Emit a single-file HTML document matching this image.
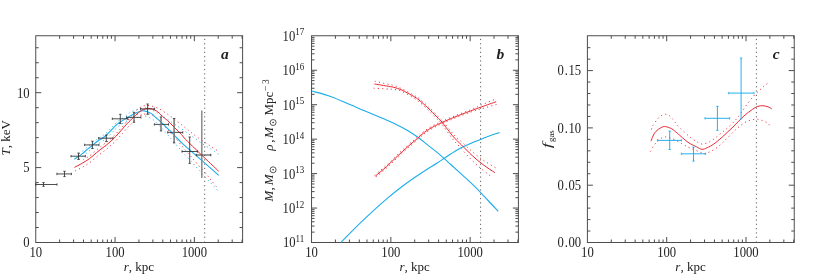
<!DOCTYPE html>
<html><head><meta charset="utf-8"><title>Cluster profiles</title>
<style>
html,body{margin:0;padding:0;background:#fff;}
body{width:830px;height:279px;overflow:hidden;}
svg{display:block;font-family:"Liberation Serif",serif;fill:#222;}
</style></head><body>
<svg width="830" height="279" viewBox="0 0 830 279">
<rect width="830" height="279" fill="#fff"/>
<g style="will-change:transform">
<rect x="35.75" y="35.75" width="206.85" height="206.75" fill="none" stroke="#4d4d4d" stroke-width="1"/>
<line x1="59.62" y1="242.50" x2="59.62" y2="239.50" stroke="#4d4d4d" stroke-width="1" />
<line x1="59.62" y1="35.75" x2="59.62" y2="38.75" stroke="#4d4d4d" stroke-width="1" />
<line x1="73.59" y1="242.50" x2="73.59" y2="239.50" stroke="#4d4d4d" stroke-width="1" />
<line x1="73.59" y1="35.75" x2="73.59" y2="38.75" stroke="#4d4d4d" stroke-width="1" />
<line x1="83.49" y1="242.50" x2="83.49" y2="239.50" stroke="#4d4d4d" stroke-width="1" />
<line x1="83.49" y1="35.75" x2="83.49" y2="38.75" stroke="#4d4d4d" stroke-width="1" />
<line x1="91.18" y1="242.50" x2="91.18" y2="239.50" stroke="#4d4d4d" stroke-width="1" />
<line x1="91.18" y1="35.75" x2="91.18" y2="38.75" stroke="#4d4d4d" stroke-width="1" />
<line x1="97.46" y1="242.50" x2="97.46" y2="239.50" stroke="#4d4d4d" stroke-width="1" />
<line x1="97.46" y1="35.75" x2="97.46" y2="38.75" stroke="#4d4d4d" stroke-width="1" />
<line x1="102.77" y1="242.50" x2="102.77" y2="239.50" stroke="#4d4d4d" stroke-width="1" />
<line x1="102.77" y1="35.75" x2="102.77" y2="38.75" stroke="#4d4d4d" stroke-width="1" />
<line x1="107.37" y1="242.50" x2="107.37" y2="239.50" stroke="#4d4d4d" stroke-width="1" />
<line x1="107.37" y1="35.75" x2="107.37" y2="38.75" stroke="#4d4d4d" stroke-width="1" />
<line x1="111.42" y1="242.50" x2="111.42" y2="239.50" stroke="#4d4d4d" stroke-width="1" />
<line x1="111.42" y1="35.75" x2="111.42" y2="38.75" stroke="#4d4d4d" stroke-width="1" />
<line x1="115.05" y1="242.50" x2="115.05" y2="237.00" stroke="#4d4d4d" stroke-width="1" />
<line x1="115.05" y1="35.75" x2="115.05" y2="41.25" stroke="#4d4d4d" stroke-width="1" />
<line x1="138.92" y1="242.50" x2="138.92" y2="239.50" stroke="#4d4d4d" stroke-width="1" />
<line x1="138.92" y1="35.75" x2="138.92" y2="38.75" stroke="#4d4d4d" stroke-width="1" />
<line x1="152.89" y1="242.50" x2="152.89" y2="239.50" stroke="#4d4d4d" stroke-width="1" />
<line x1="152.89" y1="35.75" x2="152.89" y2="38.75" stroke="#4d4d4d" stroke-width="1" />
<line x1="162.79" y1="242.50" x2="162.79" y2="239.50" stroke="#4d4d4d" stroke-width="1" />
<line x1="162.79" y1="35.75" x2="162.79" y2="38.75" stroke="#4d4d4d" stroke-width="1" />
<line x1="170.48" y1="242.50" x2="170.48" y2="239.50" stroke="#4d4d4d" stroke-width="1" />
<line x1="170.48" y1="35.75" x2="170.48" y2="38.75" stroke="#4d4d4d" stroke-width="1" />
<line x1="176.76" y1="242.50" x2="176.76" y2="239.50" stroke="#4d4d4d" stroke-width="1" />
<line x1="176.76" y1="35.75" x2="176.76" y2="38.75" stroke="#4d4d4d" stroke-width="1" />
<line x1="182.07" y1="242.50" x2="182.07" y2="239.50" stroke="#4d4d4d" stroke-width="1" />
<line x1="182.07" y1="35.75" x2="182.07" y2="38.75" stroke="#4d4d4d" stroke-width="1" />
<line x1="186.67" y1="242.50" x2="186.67" y2="239.50" stroke="#4d4d4d" stroke-width="1" />
<line x1="186.67" y1="35.75" x2="186.67" y2="38.75" stroke="#4d4d4d" stroke-width="1" />
<line x1="190.72" y1="242.50" x2="190.72" y2="239.50" stroke="#4d4d4d" stroke-width="1" />
<line x1="190.72" y1="35.75" x2="190.72" y2="38.75" stroke="#4d4d4d" stroke-width="1" />
<line x1="194.35" y1="242.50" x2="194.35" y2="237.00" stroke="#4d4d4d" stroke-width="1" />
<line x1="194.35" y1="35.75" x2="194.35" y2="41.25" stroke="#4d4d4d" stroke-width="1" />
<line x1="218.22" y1="242.50" x2="218.22" y2="239.50" stroke="#4d4d4d" stroke-width="1" />
<line x1="218.22" y1="35.75" x2="218.22" y2="38.75" stroke="#4d4d4d" stroke-width="1" />
<line x1="232.19" y1="242.50" x2="232.19" y2="239.50" stroke="#4d4d4d" stroke-width="1" />
<line x1="232.19" y1="35.75" x2="232.19" y2="38.75" stroke="#4d4d4d" stroke-width="1" />
<line x1="242.09" y1="242.50" x2="242.09" y2="239.50" stroke="#4d4d4d" stroke-width="1" />
<line x1="242.09" y1="35.75" x2="242.09" y2="38.75" stroke="#4d4d4d" stroke-width="1" />
<text transform="translate(35.75,256.90) scale(0.975,1.07)" font-size="13" text-anchor="middle" >10</text>
<text transform="translate(115.05,256.90) scale(0.975,1.07)" font-size="13" text-anchor="middle" >100</text>
<text transform="translate(194.35,256.90) scale(0.975,1.07)" font-size="13" text-anchor="middle" >1000</text>
<text x="138.88" y="270.5" font-size="13" text-anchor="middle"><tspan font-style="italic">r</tspan>, kpc</text>
<line x1="35.75" y1="227.52" x2="38.75" y2="227.52" stroke="#4d4d4d" stroke-width="1" />
<line x1="242.60" y1="227.52" x2="239.60" y2="227.52" stroke="#4d4d4d" stroke-width="1" />
<line x1="35.75" y1="212.54" x2="38.75" y2="212.54" stroke="#4d4d4d" stroke-width="1" />
<line x1="242.60" y1="212.54" x2="239.60" y2="212.54" stroke="#4d4d4d" stroke-width="1" />
<line x1="35.75" y1="197.56" x2="38.75" y2="197.56" stroke="#4d4d4d" stroke-width="1" />
<line x1="242.60" y1="197.56" x2="239.60" y2="197.56" stroke="#4d4d4d" stroke-width="1" />
<line x1="35.75" y1="182.58" x2="38.75" y2="182.58" stroke="#4d4d4d" stroke-width="1" />
<line x1="242.60" y1="182.58" x2="239.60" y2="182.58" stroke="#4d4d4d" stroke-width="1" />
<line x1="35.75" y1="167.60" x2="41.25" y2="167.60" stroke="#4d4d4d" stroke-width="1" />
<line x1="242.60" y1="167.60" x2="237.10" y2="167.60" stroke="#4d4d4d" stroke-width="1" />
<line x1="35.75" y1="152.62" x2="38.75" y2="152.62" stroke="#4d4d4d" stroke-width="1" />
<line x1="242.60" y1="152.62" x2="239.60" y2="152.62" stroke="#4d4d4d" stroke-width="1" />
<line x1="35.75" y1="137.64" x2="38.75" y2="137.64" stroke="#4d4d4d" stroke-width="1" />
<line x1="242.60" y1="137.64" x2="239.60" y2="137.64" stroke="#4d4d4d" stroke-width="1" />
<line x1="35.75" y1="122.66" x2="38.75" y2="122.66" stroke="#4d4d4d" stroke-width="1" />
<line x1="242.60" y1="122.66" x2="239.60" y2="122.66" stroke="#4d4d4d" stroke-width="1" />
<line x1="35.75" y1="107.68" x2="38.75" y2="107.68" stroke="#4d4d4d" stroke-width="1" />
<line x1="242.60" y1="107.68" x2="239.60" y2="107.68" stroke="#4d4d4d" stroke-width="1" />
<line x1="35.75" y1="92.70" x2="41.25" y2="92.70" stroke="#4d4d4d" stroke-width="1" />
<line x1="242.60" y1="92.70" x2="237.10" y2="92.70" stroke="#4d4d4d" stroke-width="1" />
<line x1="35.75" y1="77.72" x2="38.75" y2="77.72" stroke="#4d4d4d" stroke-width="1" />
<line x1="242.60" y1="77.72" x2="239.60" y2="77.72" stroke="#4d4d4d" stroke-width="1" />
<line x1="35.75" y1="62.74" x2="38.75" y2="62.74" stroke="#4d4d4d" stroke-width="1" />
<line x1="242.60" y1="62.74" x2="239.60" y2="62.74" stroke="#4d4d4d" stroke-width="1" />
<line x1="35.75" y1="47.76" x2="38.75" y2="47.76" stroke="#4d4d4d" stroke-width="1" />
<line x1="242.60" y1="47.76" x2="239.60" y2="47.76" stroke="#4d4d4d" stroke-width="1" />
<text transform="translate(29.55,247.35) scale(0.975,1.07)" font-size="13" text-anchor="end" >0</text>
<text transform="translate(29.55,172.45) scale(0.975,1.07)" font-size="13" text-anchor="end" >5</text>
<text transform="translate(29.55,97.55) scale(0.975,1.07)" font-size="13" text-anchor="end" >10</text>
<line x1="204.70" y1="38.85" x2="204.70" y2="241.50" stroke="#5e5e5e" stroke-width="1.0" stroke-dasharray="1.2 3.1"/>
<path d="M79.00 153.70 C79.63 153.25 81.23 152.25 82.80 151.00 C84.37 149.75 86.70 147.62 88.40 146.20 C90.10 144.78 91.10 143.98 93.00 142.50 C94.90 141.02 98.05 138.53 99.80 137.30 C101.55 136.07 102.30 135.93 103.50 135.10 C104.70 134.27 105.70 133.50 107.00 132.30 C108.30 131.10 110.10 129.13 111.30 127.90 C112.50 126.67 113.02 126.07 114.20 124.90 C115.38 123.73 117.20 121.90 118.40 120.90 C119.60 119.90 119.90 119.83 121.40 118.90 C122.90 117.97 126.00 116.38 127.40 115.30 C128.80 114.22 128.77 113.12 129.80 112.40 C130.83 111.68 132.23 111.53 133.60 111.00 C134.97 110.47 136.27 109.70 138.00 109.20 C139.73 108.70 142.17 108.10 144.00 108.00 C145.83 107.90 147.33 108.10 149.00 108.60 C150.67 109.10 152.17 110.02 154.00 111.00 C155.83 111.98 157.83 113.17 160.00 114.50 C162.17 115.83 164.50 117.33 167.00 119.00 C169.50 120.67 172.17 122.58 175.00 124.50 C177.83 126.42 181.00 128.42 184.00 130.50 C187.00 132.58 190.17 134.95 193.00 137.00 C195.83 139.05 198.33 140.98 201.00 142.80 C203.67 144.62 206.95 146.65 209.00 147.90 C211.05 149.15 211.62 149.15 213.30 150.30 C214.98 151.45 218.13 154.05 219.10 154.80" fill="none" stroke="#1badea" stroke-width="0.95" stroke-dasharray="1.1 3.2"/>
<path d="M79.00 159.10 C79.63 158.65 81.23 157.65 82.80 156.40 C84.37 155.15 86.70 153.02 88.40 151.60 C90.10 150.18 91.10 149.38 93.00 147.90 C94.90 146.42 98.05 143.93 99.80 142.70 C101.55 141.47 102.30 141.33 103.50 140.50 C104.70 139.67 105.70 138.90 107.00 137.70 C108.30 136.50 110.10 134.53 111.30 133.30 C112.50 132.07 113.02 131.47 114.20 130.30 C115.38 129.13 117.20 127.30 118.40 126.30 C119.60 125.30 119.90 125.23 121.40 124.30 C122.90 123.37 125.82 121.65 127.40 120.70 C128.98 119.75 129.50 119.55 130.90 118.60 C132.30 117.65 134.12 115.60 135.80 115.00 C137.48 114.40 139.22 114.75 141.00 115.00 C142.78 115.25 144.87 115.93 146.50 116.50 C148.13 117.07 149.45 117.67 150.80 118.40 C152.15 119.13 153.07 119.55 154.60 120.90 C156.13 122.25 157.93 124.32 160.00 126.50 C162.07 128.68 164.50 131.17 167.00 134.00 C169.50 136.83 172.17 140.25 175.00 143.50 C177.83 146.75 181.00 150.17 184.00 153.50 C187.00 156.83 190.17 160.37 193.00 163.50 C195.83 166.63 198.33 169.35 201.00 172.30 C203.67 175.25 206.77 178.82 209.00 181.20 C211.23 183.58 212.97 185.05 214.40 186.60 C215.83 188.15 217.07 189.85 217.60 190.50" fill="none" stroke="#1badea" stroke-width="0.95" stroke-dasharray="1.1 3.2"/>
<path d="M83.10 159.90 C84.30 159.13 87.90 157.08 90.30 155.30 C92.70 153.52 95.25 151.03 97.50 149.20 C99.75 147.37 102.17 145.55 103.80 144.30 C105.43 143.05 106.13 142.65 107.30 141.70 C108.47 140.75 109.60 139.67 110.80 138.60 C112.00 137.53 113.18 136.62 114.50 135.30 C115.82 133.98 117.40 132.13 118.70 130.70 C120.00 129.27 120.80 128.40 122.30 126.70 C123.80 125.00 126.22 122.10 127.70 120.50 C129.18 118.90 129.47 119.02 131.20 117.10 C132.93 115.18 136.27 110.78 138.10 109.00 C139.93 107.22 140.80 106.97 142.20 106.40 C143.60 105.83 145.07 105.68 146.50 105.60 C147.93 105.52 149.28 105.62 150.80 105.90 C152.32 106.18 154.17 106.78 155.60 107.30 C157.03 107.82 158.22 108.40 159.40 109.00 C160.58 109.60 161.52 110.15 162.70 110.90 C163.88 111.65 165.28 112.68 166.50 113.50 C167.72 114.32 168.22 114.47 170.00 115.80 C171.78 117.13 174.92 119.72 177.20 121.50 C179.48 123.28 181.55 124.82 183.70 126.50 C185.85 128.18 187.83 129.82 190.10 131.60 C192.37 133.38 194.52 135.20 197.30 137.20 C200.08 139.20 204.50 142.03 206.80 143.60 C209.10 145.17 209.67 145.67 211.10 146.60 C212.53 147.53 214.08 148.32 215.40 149.20 C216.72 150.08 218.40 151.45 219.00 151.90" fill="none" stroke="#ea2630" stroke-width="0.95" stroke-dasharray="1.1 3.2"/>
<path d="M75.20 171.00 C76.52 170.30 80.58 168.27 83.10 166.80 C85.62 165.33 87.90 163.98 90.30 162.20 C92.70 160.42 95.25 157.93 97.50 156.10 C99.75 154.27 102.17 152.45 103.80 151.20 C105.43 149.95 106.13 149.55 107.30 148.60 C108.47 147.65 109.60 146.57 110.80 145.50 C112.00 144.43 113.18 143.52 114.50 142.20 C115.82 140.88 117.40 139.03 118.70 137.60 C120.00 136.17 120.80 135.30 122.30 133.60 C123.80 131.90 126.22 129.00 127.70 127.40 C129.18 125.80 129.32 125.87 131.20 124.00 C133.08 122.13 136.98 117.80 139.00 116.20 C141.02 114.60 141.80 114.80 143.30 114.40 C144.80 114.00 146.55 113.70 148.00 113.80 C149.45 113.90 150.50 114.20 152.00 115.00 C153.50 115.80 155.33 117.17 157.00 118.60 C158.67 120.03 160.33 121.88 162.00 123.60 C163.67 125.32 165.33 127.07 167.00 128.90 C168.67 130.73 170.33 132.75 172.00 134.60 C173.67 136.45 175.00 137.68 177.00 140.00 C179.00 142.32 181.83 145.93 184.00 148.50 C186.17 151.07 187.83 152.88 190.00 155.40 C192.17 157.92 194.20 160.37 197.00 163.60 C199.80 166.83 204.45 172.03 206.80 174.80 C209.15 177.57 209.48 178.23 211.10 180.20 C212.72 182.17 215.35 185.20 216.50 186.60 C217.65 188.00 217.75 188.27 218.00 188.60" fill="none" stroke="#ea2630" stroke-width="0.95" stroke-dasharray="1.1 3.2"/>
<path d="M74.40 159.30 C75.08 158.82 77.18 157.33 78.50 156.40 C79.82 155.47 80.73 154.95 82.30 153.70 C83.87 152.45 86.20 150.32 87.90 148.90 C89.60 147.48 90.60 146.68 92.50 145.20 C94.40 143.72 97.55 141.23 99.30 140.00 C101.05 138.77 101.80 138.63 103.00 137.80 C104.20 136.97 105.20 136.20 106.50 135.00 C107.80 133.80 109.60 131.83 110.80 130.60 C112.00 129.37 112.52 128.77 113.70 127.60 C114.88 126.43 116.70 124.60 117.90 123.60 C119.10 122.60 119.40 122.53 120.90 121.60 C122.40 120.67 125.32 118.95 126.90 118.00 C128.48 117.05 128.92 116.73 130.40 115.90 C131.88 115.07 134.13 113.78 135.80 113.00 C137.47 112.22 139.00 111.55 140.40 111.20 C141.80 110.85 142.65 110.63 144.20 110.90 C145.75 111.17 148.25 112.18 149.70 112.80 C151.15 113.42 152.00 113.92 152.90 114.60 C153.80 115.28 154.08 115.97 155.10 116.90 C156.12 117.83 157.87 119.22 159.00 120.20 C160.13 121.18 160.42 121.35 161.90 122.80 C163.38 124.25 166.42 127.47 167.90 128.90 C169.38 130.33 169.30 129.88 170.80 131.40 C172.30 132.92 174.98 136.02 176.90 138.00 C178.82 139.98 180.12 141.27 182.30 143.30 C184.48 145.33 187.05 147.60 190.00 150.20 C192.95 152.80 196.67 156.00 200.00 158.90 C203.33 161.80 206.88 164.85 210.00 167.60 C213.12 170.35 217.25 174.10 218.70 175.40" fill="none" stroke="#1badea" stroke-width="1.08" />
<path d="M74.40 167.40 C75.72 166.70 79.78 164.67 82.30 163.20 C84.82 161.73 87.10 160.38 89.50 158.60 C91.90 156.82 94.45 154.33 96.70 152.50 C98.95 150.67 101.37 148.85 103.00 147.60 C104.63 146.35 105.33 145.95 106.50 145.00 C107.67 144.05 108.80 142.97 110.00 141.90 C111.20 140.83 112.38 139.92 113.70 138.60 C115.02 137.28 116.60 135.43 117.90 134.00 C119.20 132.57 120.00 131.70 121.50 130.00 C123.00 128.30 125.42 125.40 126.90 123.80 C128.38 122.20 128.92 121.83 130.40 120.40 C131.88 118.97 134.02 116.83 135.80 115.20 C137.58 113.57 139.40 111.68 141.10 110.60 C142.80 109.52 144.68 109.05 146.00 108.70 C147.32 108.35 147.95 108.42 149.00 108.50 C150.05 108.58 150.92 108.72 152.30 109.20 C153.68 109.68 155.63 110.23 157.30 111.40 C158.97 112.57 160.60 114.67 162.30 116.20 C164.00 117.73 165.50 118.75 167.50 120.60 C169.50 122.45 171.97 124.97 174.30 127.30 C176.63 129.63 179.58 132.55 181.50 134.60 C183.42 136.65 183.55 137.27 185.80 139.60 C188.05 141.93 191.80 145.48 195.00 148.60 C198.20 151.72 202.17 155.58 205.00 158.30 C207.83 161.02 209.72 162.73 212.00 164.90 C214.28 167.07 217.58 170.23 218.70 171.30" fill="none" stroke="#ea2630" stroke-width="1.0" />
<line x1="35.80" y1="184.50" x2="57.00" y2="184.50" stroke="#2f2f2f" stroke-width="0.85" />
<line x1="43.50" y1="182.60" x2="43.50" y2="186.30" stroke="#2f2f2f" stroke-width="0.85" />
<line x1="35.80" y1="183.30" x2="35.80" y2="185.70" stroke="#2f2f2f" stroke-width="0.8" />
<line x1="57.00" y1="183.30" x2="57.00" y2="185.70" stroke="#2f2f2f" stroke-width="0.8" />
<line x1="42.30" y1="182.60" x2="44.70" y2="182.60" stroke="#2f2f2f" stroke-width="0.8" />
<line x1="42.30" y1="186.30" x2="44.70" y2="186.30" stroke="#2f2f2f" stroke-width="0.8" />
<line x1="56.90" y1="173.95" x2="71.40" y2="173.95" stroke="#2f2f2f" stroke-width="0.85" />
<line x1="64.50" y1="171.30" x2="64.50" y2="176.60" stroke="#2f2f2f" stroke-width="0.85" />
<line x1="56.90" y1="172.75" x2="56.90" y2="175.15" stroke="#2f2f2f" stroke-width="0.8" />
<line x1="71.40" y1="172.75" x2="71.40" y2="175.15" stroke="#2f2f2f" stroke-width="0.8" />
<line x1="63.30" y1="171.30" x2="65.70" y2="171.30" stroke="#2f2f2f" stroke-width="0.8" />
<line x1="63.30" y1="176.60" x2="65.70" y2="176.60" stroke="#2f2f2f" stroke-width="0.8" />
<line x1="71.00" y1="156.20" x2="85.30" y2="156.20" stroke="#2f2f2f" stroke-width="0.85" />
<line x1="78.50" y1="153.10" x2="78.50" y2="159.50" stroke="#2f2f2f" stroke-width="0.85" />
<line x1="71.00" y1="155.00" x2="71.00" y2="157.40" stroke="#2f2f2f" stroke-width="0.8" />
<line x1="85.30" y1="155.00" x2="85.30" y2="157.40" stroke="#2f2f2f" stroke-width="0.8" />
<line x1="77.30" y1="153.10" x2="79.70" y2="153.10" stroke="#2f2f2f" stroke-width="0.8" />
<line x1="77.30" y1="159.50" x2="79.70" y2="159.50" stroke="#2f2f2f" stroke-width="0.8" />
<line x1="84.60" y1="144.90" x2="99.00" y2="144.90" stroke="#2f2f2f" stroke-width="0.85" />
<line x1="92.40" y1="141.20" x2="92.40" y2="148.50" stroke="#2f2f2f" stroke-width="0.85" />
<line x1="84.60" y1="143.70" x2="84.60" y2="146.10" stroke="#2f2f2f" stroke-width="0.8" />
<line x1="99.00" y1="143.70" x2="99.00" y2="146.10" stroke="#2f2f2f" stroke-width="0.8" />
<line x1="91.20" y1="141.20" x2="93.60" y2="141.20" stroke="#2f2f2f" stroke-width="0.8" />
<line x1="91.20" y1="148.50" x2="93.60" y2="148.50" stroke="#2f2f2f" stroke-width="0.8" />
<line x1="98.60" y1="138.20" x2="113.00" y2="138.20" stroke="#2f2f2f" stroke-width="0.85" />
<line x1="106.30" y1="135.10" x2="106.30" y2="141.60" stroke="#2f2f2f" stroke-width="0.85" />
<line x1="98.60" y1="137.00" x2="98.60" y2="139.40" stroke="#2f2f2f" stroke-width="0.8" />
<line x1="113.00" y1="137.00" x2="113.00" y2="139.40" stroke="#2f2f2f" stroke-width="0.8" />
<line x1="105.10" y1="135.10" x2="107.50" y2="135.10" stroke="#2f2f2f" stroke-width="0.8" />
<line x1="105.10" y1="141.60" x2="107.50" y2="141.60" stroke="#2f2f2f" stroke-width="0.8" />
<line x1="112.30" y1="118.80" x2="127.80" y2="118.80" stroke="#2f2f2f" stroke-width="0.85" />
<line x1="120.30" y1="114.30" x2="120.30" y2="123.50" stroke="#2f2f2f" stroke-width="0.85" />
<line x1="112.30" y1="117.60" x2="112.30" y2="120.00" stroke="#2f2f2f" stroke-width="0.8" />
<line x1="127.80" y1="117.60" x2="127.80" y2="120.00" stroke="#2f2f2f" stroke-width="0.8" />
<line x1="119.10" y1="114.30" x2="121.50" y2="114.30" stroke="#2f2f2f" stroke-width="0.8" />
<line x1="119.10" y1="123.50" x2="121.50" y2="123.50" stroke="#2f2f2f" stroke-width="0.8" />
<line x1="126.60" y1="117.40" x2="140.90" y2="117.40" stroke="#2f2f2f" stroke-width="0.85" />
<line x1="134.00" y1="112.40" x2="134.00" y2="122.30" stroke="#555" stroke-width="1.2" />
<line x1="126.60" y1="116.20" x2="126.60" y2="118.60" stroke="#2f2f2f" stroke-width="0.8" />
<line x1="140.90" y1="116.20" x2="140.90" y2="118.60" stroke="#2f2f2f" stroke-width="0.8" />
<line x1="132.80" y1="112.40" x2="135.20" y2="112.40" stroke="#2f2f2f" stroke-width="0.8" />
<line x1="132.80" y1="122.30" x2="135.20" y2="122.30" stroke="#2f2f2f" stroke-width="0.8" />
<line x1="140.50" y1="108.90" x2="154.60" y2="108.90" stroke="#2f2f2f" stroke-width="0.85" />
<line x1="147.60" y1="104.00" x2="147.60" y2="114.30" stroke="#2f2f2f" stroke-width="0.85" />
<line x1="140.50" y1="107.70" x2="140.50" y2="110.10" stroke="#2f2f2f" stroke-width="0.8" />
<line x1="154.60" y1="107.70" x2="154.60" y2="110.10" stroke="#2f2f2f" stroke-width="0.8" />
<line x1="146.40" y1="104.00" x2="148.80" y2="104.00" stroke="#2f2f2f" stroke-width="0.8" />
<line x1="146.40" y1="114.30" x2="148.80" y2="114.30" stroke="#2f2f2f" stroke-width="0.8" />
<line x1="154.40" y1="124.40" x2="168.50" y2="124.40" stroke="#2f2f2f" stroke-width="0.85" />
<line x1="161.00" y1="116.90" x2="161.00" y2="130.90" stroke="#747474" stroke-width="1.5" />
<line x1="154.40" y1="123.20" x2="154.40" y2="125.60" stroke="#2f2f2f" stroke-width="0.8" />
<line x1="168.50" y1="123.20" x2="168.50" y2="125.60" stroke="#2f2f2f" stroke-width="0.8" />
<line x1="159.80" y1="116.90" x2="162.20" y2="116.90" stroke="#2f2f2f" stroke-width="0.8" />
<line x1="159.80" y1="130.90" x2="162.20" y2="130.90" stroke="#2f2f2f" stroke-width="0.8" />
<line x1="167.70" y1="132.40" x2="182.80" y2="132.40" stroke="#2f2f2f" stroke-width="0.85" />
<line x1="174.10" y1="118.50" x2="174.10" y2="142.90" stroke="#747474" stroke-width="1.5" />
<line x1="167.70" y1="131.20" x2="167.70" y2="133.60" stroke="#2f2f2f" stroke-width="0.8" />
<line x1="182.80" y1="131.20" x2="182.80" y2="133.60" stroke="#2f2f2f" stroke-width="0.8" />
<line x1="172.90" y1="118.50" x2="175.30" y2="118.50" stroke="#2f2f2f" stroke-width="0.8" />
<line x1="172.90" y1="142.90" x2="175.30" y2="142.90" stroke="#2f2f2f" stroke-width="0.8" />
<line x1="182.00" y1="151.50" x2="197.60" y2="151.50" stroke="#2f2f2f" stroke-width="0.85" />
<line x1="189.70" y1="137.00" x2="189.70" y2="163.40" stroke="#2f2f2f" stroke-width="0.85" />
<line x1="182.00" y1="150.30" x2="182.00" y2="152.70" stroke="#2f2f2f" stroke-width="0.8" />
<line x1="197.60" y1="150.30" x2="197.60" y2="152.70" stroke="#2f2f2f" stroke-width="0.8" />
<line x1="188.50" y1="137.00" x2="190.90" y2="137.00" stroke="#2f2f2f" stroke-width="0.8" />
<line x1="188.50" y1="163.40" x2="190.90" y2="163.40" stroke="#2f2f2f" stroke-width="0.8" />
<line x1="201.80" y1="110.50" x2="201.80" y2="178.00" stroke="#858585" stroke-width="1.45" />
<line x1="196.30" y1="155.00" x2="210.80" y2="155.00" stroke="#3a3a3a" stroke-width="1.0" />
<line x1="196.30" y1="153.80" x2="196.30" y2="156.20" stroke="#3a3a3a" stroke-width="1.0" />
<line x1="210.80" y1="153.80" x2="210.80" y2="156.20" stroke="#3a3a3a" stroke-width="1.0" />
<text x="224.9" y="58.7" font-size="15.5" font-weight="bold" font-style="italic" text-anchor="middle">a</text>
<text transform="translate(10.0,155.6) rotate(-90)" font-size="13"><tspan font-style="italic">T</tspan>, keV</text>
<rect x="311.55" y="35.75" width="206.85" height="206.75" fill="none" stroke="#4d4d4d" stroke-width="1"/>
<line x1="335.42" y1="242.50" x2="335.42" y2="239.50" stroke="#4d4d4d" stroke-width="1" />
<line x1="335.42" y1="35.75" x2="335.42" y2="38.75" stroke="#4d4d4d" stroke-width="1" />
<line x1="349.39" y1="242.50" x2="349.39" y2="239.50" stroke="#4d4d4d" stroke-width="1" />
<line x1="349.39" y1="35.75" x2="349.39" y2="38.75" stroke="#4d4d4d" stroke-width="1" />
<line x1="359.29" y1="242.50" x2="359.29" y2="239.50" stroke="#4d4d4d" stroke-width="1" />
<line x1="359.29" y1="35.75" x2="359.29" y2="38.75" stroke="#4d4d4d" stroke-width="1" />
<line x1="366.98" y1="242.50" x2="366.98" y2="239.50" stroke="#4d4d4d" stroke-width="1" />
<line x1="366.98" y1="35.75" x2="366.98" y2="38.75" stroke="#4d4d4d" stroke-width="1" />
<line x1="373.26" y1="242.50" x2="373.26" y2="239.50" stroke="#4d4d4d" stroke-width="1" />
<line x1="373.26" y1="35.75" x2="373.26" y2="38.75" stroke="#4d4d4d" stroke-width="1" />
<line x1="378.57" y1="242.50" x2="378.57" y2="239.50" stroke="#4d4d4d" stroke-width="1" />
<line x1="378.57" y1="35.75" x2="378.57" y2="38.75" stroke="#4d4d4d" stroke-width="1" />
<line x1="383.17" y1="242.50" x2="383.17" y2="239.50" stroke="#4d4d4d" stroke-width="1" />
<line x1="383.17" y1="35.75" x2="383.17" y2="38.75" stroke="#4d4d4d" stroke-width="1" />
<line x1="387.22" y1="242.50" x2="387.22" y2="239.50" stroke="#4d4d4d" stroke-width="1" />
<line x1="387.22" y1="35.75" x2="387.22" y2="38.75" stroke="#4d4d4d" stroke-width="1" />
<line x1="390.85" y1="242.50" x2="390.85" y2="237.00" stroke="#4d4d4d" stroke-width="1" />
<line x1="390.85" y1="35.75" x2="390.85" y2="41.25" stroke="#4d4d4d" stroke-width="1" />
<line x1="414.72" y1="242.50" x2="414.72" y2="239.50" stroke="#4d4d4d" stroke-width="1" />
<line x1="414.72" y1="35.75" x2="414.72" y2="38.75" stroke="#4d4d4d" stroke-width="1" />
<line x1="428.69" y1="242.50" x2="428.69" y2="239.50" stroke="#4d4d4d" stroke-width="1" />
<line x1="428.69" y1="35.75" x2="428.69" y2="38.75" stroke="#4d4d4d" stroke-width="1" />
<line x1="438.59" y1="242.50" x2="438.59" y2="239.50" stroke="#4d4d4d" stroke-width="1" />
<line x1="438.59" y1="35.75" x2="438.59" y2="38.75" stroke="#4d4d4d" stroke-width="1" />
<line x1="446.28" y1="242.50" x2="446.28" y2="239.50" stroke="#4d4d4d" stroke-width="1" />
<line x1="446.28" y1="35.75" x2="446.28" y2="38.75" stroke="#4d4d4d" stroke-width="1" />
<line x1="452.56" y1="242.50" x2="452.56" y2="239.50" stroke="#4d4d4d" stroke-width="1" />
<line x1="452.56" y1="35.75" x2="452.56" y2="38.75" stroke="#4d4d4d" stroke-width="1" />
<line x1="457.87" y1="242.50" x2="457.87" y2="239.50" stroke="#4d4d4d" stroke-width="1" />
<line x1="457.87" y1="35.75" x2="457.87" y2="38.75" stroke="#4d4d4d" stroke-width="1" />
<line x1="462.47" y1="242.50" x2="462.47" y2="239.50" stroke="#4d4d4d" stroke-width="1" />
<line x1="462.47" y1="35.75" x2="462.47" y2="38.75" stroke="#4d4d4d" stroke-width="1" />
<line x1="466.52" y1="242.50" x2="466.52" y2="239.50" stroke="#4d4d4d" stroke-width="1" />
<line x1="466.52" y1="35.75" x2="466.52" y2="38.75" stroke="#4d4d4d" stroke-width="1" />
<line x1="470.15" y1="242.50" x2="470.15" y2="237.00" stroke="#4d4d4d" stroke-width="1" />
<line x1="470.15" y1="35.75" x2="470.15" y2="41.25" stroke="#4d4d4d" stroke-width="1" />
<line x1="494.02" y1="242.50" x2="494.02" y2="239.50" stroke="#4d4d4d" stroke-width="1" />
<line x1="494.02" y1="35.75" x2="494.02" y2="38.75" stroke="#4d4d4d" stroke-width="1" />
<line x1="507.99" y1="242.50" x2="507.99" y2="239.50" stroke="#4d4d4d" stroke-width="1" />
<line x1="507.99" y1="35.75" x2="507.99" y2="38.75" stroke="#4d4d4d" stroke-width="1" />
<line x1="517.89" y1="242.50" x2="517.89" y2="239.50" stroke="#4d4d4d" stroke-width="1" />
<line x1="517.89" y1="35.75" x2="517.89" y2="38.75" stroke="#4d4d4d" stroke-width="1" />
<text transform="translate(311.55,256.90) scale(0.975,1.07)" font-size="13" text-anchor="middle" >10</text>
<text transform="translate(390.85,256.90) scale(0.975,1.07)" font-size="13" text-anchor="middle" >100</text>
<text transform="translate(470.15,256.90) scale(0.975,1.07)" font-size="13" text-anchor="middle" >1000</text>
<text x="414.68" y="270.5" font-size="13" text-anchor="middle"><tspan font-style="italic">r</tspan>, kpc</text>
<line x1="311.55" y1="232.13" x2="314.55" y2="232.13" stroke="#4d4d4d" stroke-width="1" />
<line x1="518.40" y1="232.13" x2="515.40" y2="232.13" stroke="#4d4d4d" stroke-width="1" />
<line x1="311.55" y1="226.06" x2="314.55" y2="226.06" stroke="#4d4d4d" stroke-width="1" />
<line x1="518.40" y1="226.06" x2="515.40" y2="226.06" stroke="#4d4d4d" stroke-width="1" />
<line x1="311.55" y1="221.76" x2="314.55" y2="221.76" stroke="#4d4d4d" stroke-width="1" />
<line x1="518.40" y1="221.76" x2="515.40" y2="221.76" stroke="#4d4d4d" stroke-width="1" />
<line x1="311.55" y1="218.42" x2="314.55" y2="218.42" stroke="#4d4d4d" stroke-width="1" />
<line x1="518.40" y1="218.42" x2="515.40" y2="218.42" stroke="#4d4d4d" stroke-width="1" />
<line x1="311.55" y1="215.69" x2="314.55" y2="215.69" stroke="#4d4d4d" stroke-width="1" />
<line x1="518.40" y1="215.69" x2="515.40" y2="215.69" stroke="#4d4d4d" stroke-width="1" />
<line x1="311.55" y1="213.39" x2="314.55" y2="213.39" stroke="#4d4d4d" stroke-width="1" />
<line x1="518.40" y1="213.39" x2="515.40" y2="213.39" stroke="#4d4d4d" stroke-width="1" />
<line x1="311.55" y1="211.39" x2="314.55" y2="211.39" stroke="#4d4d4d" stroke-width="1" />
<line x1="518.40" y1="211.39" x2="515.40" y2="211.39" stroke="#4d4d4d" stroke-width="1" />
<line x1="311.55" y1="209.63" x2="314.55" y2="209.63" stroke="#4d4d4d" stroke-width="1" />
<line x1="518.40" y1="209.63" x2="515.40" y2="209.63" stroke="#4d4d4d" stroke-width="1" />
<line x1="311.55" y1="208.05" x2="317.05" y2="208.05" stroke="#4d4d4d" stroke-width="1" />
<line x1="518.40" y1="208.05" x2="512.90" y2="208.05" stroke="#4d4d4d" stroke-width="1" />
<line x1="311.55" y1="197.68" x2="314.55" y2="197.68" stroke="#4d4d4d" stroke-width="1" />
<line x1="518.40" y1="197.68" x2="515.40" y2="197.68" stroke="#4d4d4d" stroke-width="1" />
<line x1="311.55" y1="191.61" x2="314.55" y2="191.61" stroke="#4d4d4d" stroke-width="1" />
<line x1="518.40" y1="191.61" x2="515.40" y2="191.61" stroke="#4d4d4d" stroke-width="1" />
<line x1="311.55" y1="187.31" x2="314.55" y2="187.31" stroke="#4d4d4d" stroke-width="1" />
<line x1="518.40" y1="187.31" x2="515.40" y2="187.31" stroke="#4d4d4d" stroke-width="1" />
<line x1="311.55" y1="183.97" x2="314.55" y2="183.97" stroke="#4d4d4d" stroke-width="1" />
<line x1="518.40" y1="183.97" x2="515.40" y2="183.97" stroke="#4d4d4d" stroke-width="1" />
<line x1="311.55" y1="181.24" x2="314.55" y2="181.24" stroke="#4d4d4d" stroke-width="1" />
<line x1="518.40" y1="181.24" x2="515.40" y2="181.24" stroke="#4d4d4d" stroke-width="1" />
<line x1="311.55" y1="178.94" x2="314.55" y2="178.94" stroke="#4d4d4d" stroke-width="1" />
<line x1="518.40" y1="178.94" x2="515.40" y2="178.94" stroke="#4d4d4d" stroke-width="1" />
<line x1="311.55" y1="176.94" x2="314.55" y2="176.94" stroke="#4d4d4d" stroke-width="1" />
<line x1="518.40" y1="176.94" x2="515.40" y2="176.94" stroke="#4d4d4d" stroke-width="1" />
<line x1="311.55" y1="175.18" x2="314.55" y2="175.18" stroke="#4d4d4d" stroke-width="1" />
<line x1="518.40" y1="175.18" x2="515.40" y2="175.18" stroke="#4d4d4d" stroke-width="1" />
<line x1="311.55" y1="173.60" x2="317.05" y2="173.60" stroke="#4d4d4d" stroke-width="1" />
<line x1="518.40" y1="173.60" x2="512.90" y2="173.60" stroke="#4d4d4d" stroke-width="1" />
<line x1="311.55" y1="163.23" x2="314.55" y2="163.23" stroke="#4d4d4d" stroke-width="1" />
<line x1="518.40" y1="163.23" x2="515.40" y2="163.23" stroke="#4d4d4d" stroke-width="1" />
<line x1="311.55" y1="157.16" x2="314.55" y2="157.16" stroke="#4d4d4d" stroke-width="1" />
<line x1="518.40" y1="157.16" x2="515.40" y2="157.16" stroke="#4d4d4d" stroke-width="1" />
<line x1="311.55" y1="152.86" x2="314.55" y2="152.86" stroke="#4d4d4d" stroke-width="1" />
<line x1="518.40" y1="152.86" x2="515.40" y2="152.86" stroke="#4d4d4d" stroke-width="1" />
<line x1="311.55" y1="149.52" x2="314.55" y2="149.52" stroke="#4d4d4d" stroke-width="1" />
<line x1="518.40" y1="149.52" x2="515.40" y2="149.52" stroke="#4d4d4d" stroke-width="1" />
<line x1="311.55" y1="146.79" x2="314.55" y2="146.79" stroke="#4d4d4d" stroke-width="1" />
<line x1="518.40" y1="146.79" x2="515.40" y2="146.79" stroke="#4d4d4d" stroke-width="1" />
<line x1="311.55" y1="144.49" x2="314.55" y2="144.49" stroke="#4d4d4d" stroke-width="1" />
<line x1="518.40" y1="144.49" x2="515.40" y2="144.49" stroke="#4d4d4d" stroke-width="1" />
<line x1="311.55" y1="142.49" x2="314.55" y2="142.49" stroke="#4d4d4d" stroke-width="1" />
<line x1="518.40" y1="142.49" x2="515.40" y2="142.49" stroke="#4d4d4d" stroke-width="1" />
<line x1="311.55" y1="140.73" x2="314.55" y2="140.73" stroke="#4d4d4d" stroke-width="1" />
<line x1="518.40" y1="140.73" x2="515.40" y2="140.73" stroke="#4d4d4d" stroke-width="1" />
<line x1="311.55" y1="139.15" x2="317.05" y2="139.15" stroke="#4d4d4d" stroke-width="1" />
<line x1="518.40" y1="139.15" x2="512.90" y2="139.15" stroke="#4d4d4d" stroke-width="1" />
<line x1="311.55" y1="128.78" x2="314.55" y2="128.78" stroke="#4d4d4d" stroke-width="1" />
<line x1="518.40" y1="128.78" x2="515.40" y2="128.78" stroke="#4d4d4d" stroke-width="1" />
<line x1="311.55" y1="122.71" x2="314.55" y2="122.71" stroke="#4d4d4d" stroke-width="1" />
<line x1="518.40" y1="122.71" x2="515.40" y2="122.71" stroke="#4d4d4d" stroke-width="1" />
<line x1="311.55" y1="118.41" x2="314.55" y2="118.41" stroke="#4d4d4d" stroke-width="1" />
<line x1="518.40" y1="118.41" x2="515.40" y2="118.41" stroke="#4d4d4d" stroke-width="1" />
<line x1="311.55" y1="115.07" x2="314.55" y2="115.07" stroke="#4d4d4d" stroke-width="1" />
<line x1="518.40" y1="115.07" x2="515.40" y2="115.07" stroke="#4d4d4d" stroke-width="1" />
<line x1="311.55" y1="112.34" x2="314.55" y2="112.34" stroke="#4d4d4d" stroke-width="1" />
<line x1="518.40" y1="112.34" x2="515.40" y2="112.34" stroke="#4d4d4d" stroke-width="1" />
<line x1="311.55" y1="110.04" x2="314.55" y2="110.04" stroke="#4d4d4d" stroke-width="1" />
<line x1="518.40" y1="110.04" x2="515.40" y2="110.04" stroke="#4d4d4d" stroke-width="1" />
<line x1="311.55" y1="108.04" x2="314.55" y2="108.04" stroke="#4d4d4d" stroke-width="1" />
<line x1="518.40" y1="108.04" x2="515.40" y2="108.04" stroke="#4d4d4d" stroke-width="1" />
<line x1="311.55" y1="106.28" x2="314.55" y2="106.28" stroke="#4d4d4d" stroke-width="1" />
<line x1="518.40" y1="106.28" x2="515.40" y2="106.28" stroke="#4d4d4d" stroke-width="1" />
<line x1="311.55" y1="104.70" x2="317.05" y2="104.70" stroke="#4d4d4d" stroke-width="1" />
<line x1="518.40" y1="104.70" x2="512.90" y2="104.70" stroke="#4d4d4d" stroke-width="1" />
<line x1="311.55" y1="94.33" x2="314.55" y2="94.33" stroke="#4d4d4d" stroke-width="1" />
<line x1="518.40" y1="94.33" x2="515.40" y2="94.33" stroke="#4d4d4d" stroke-width="1" />
<line x1="311.55" y1="88.26" x2="314.55" y2="88.26" stroke="#4d4d4d" stroke-width="1" />
<line x1="518.40" y1="88.26" x2="515.40" y2="88.26" stroke="#4d4d4d" stroke-width="1" />
<line x1="311.55" y1="83.96" x2="314.55" y2="83.96" stroke="#4d4d4d" stroke-width="1" />
<line x1="518.40" y1="83.96" x2="515.40" y2="83.96" stroke="#4d4d4d" stroke-width="1" />
<line x1="311.55" y1="80.62" x2="314.55" y2="80.62" stroke="#4d4d4d" stroke-width="1" />
<line x1="518.40" y1="80.62" x2="515.40" y2="80.62" stroke="#4d4d4d" stroke-width="1" />
<line x1="311.55" y1="77.89" x2="314.55" y2="77.89" stroke="#4d4d4d" stroke-width="1" />
<line x1="518.40" y1="77.89" x2="515.40" y2="77.89" stroke="#4d4d4d" stroke-width="1" />
<line x1="311.55" y1="75.59" x2="314.55" y2="75.59" stroke="#4d4d4d" stroke-width="1" />
<line x1="518.40" y1="75.59" x2="515.40" y2="75.59" stroke="#4d4d4d" stroke-width="1" />
<line x1="311.55" y1="73.59" x2="314.55" y2="73.59" stroke="#4d4d4d" stroke-width="1" />
<line x1="518.40" y1="73.59" x2="515.40" y2="73.59" stroke="#4d4d4d" stroke-width="1" />
<line x1="311.55" y1="71.83" x2="314.55" y2="71.83" stroke="#4d4d4d" stroke-width="1" />
<line x1="518.40" y1="71.83" x2="515.40" y2="71.83" stroke="#4d4d4d" stroke-width="1" />
<line x1="311.55" y1="70.25" x2="317.05" y2="70.25" stroke="#4d4d4d" stroke-width="1" />
<line x1="518.40" y1="70.25" x2="512.90" y2="70.25" stroke="#4d4d4d" stroke-width="1" />
<line x1="311.55" y1="59.88" x2="314.55" y2="59.88" stroke="#4d4d4d" stroke-width="1" />
<line x1="518.40" y1="59.88" x2="515.40" y2="59.88" stroke="#4d4d4d" stroke-width="1" />
<line x1="311.55" y1="53.81" x2="314.55" y2="53.81" stroke="#4d4d4d" stroke-width="1" />
<line x1="518.40" y1="53.81" x2="515.40" y2="53.81" stroke="#4d4d4d" stroke-width="1" />
<line x1="311.55" y1="49.51" x2="314.55" y2="49.51" stroke="#4d4d4d" stroke-width="1" />
<line x1="518.40" y1="49.51" x2="515.40" y2="49.51" stroke="#4d4d4d" stroke-width="1" />
<line x1="311.55" y1="46.17" x2="314.55" y2="46.17" stroke="#4d4d4d" stroke-width="1" />
<line x1="518.40" y1="46.17" x2="515.40" y2="46.17" stroke="#4d4d4d" stroke-width="1" />
<line x1="311.55" y1="43.44" x2="314.55" y2="43.44" stroke="#4d4d4d" stroke-width="1" />
<line x1="518.40" y1="43.44" x2="515.40" y2="43.44" stroke="#4d4d4d" stroke-width="1" />
<line x1="311.55" y1="41.14" x2="314.55" y2="41.14" stroke="#4d4d4d" stroke-width="1" />
<line x1="518.40" y1="41.14" x2="515.40" y2="41.14" stroke="#4d4d4d" stroke-width="1" />
<line x1="311.55" y1="39.14" x2="314.55" y2="39.14" stroke="#4d4d4d" stroke-width="1" />
<line x1="518.40" y1="39.14" x2="515.40" y2="39.14" stroke="#4d4d4d" stroke-width="1" />
<line x1="311.55" y1="37.38" x2="314.55" y2="37.38" stroke="#4d4d4d" stroke-width="1" />
<line x1="518.40" y1="37.38" x2="515.40" y2="37.38" stroke="#4d4d4d" stroke-width="1" />
<text transform="translate(304.25,247.40) scale(0.975,1.07)" font-size="13" text-anchor="end">10<tspan font-size="9.2" dy="-5.0">11</tspan></text>
<text transform="translate(304.25,212.95) scale(0.975,1.07)" font-size="13" text-anchor="end">10<tspan font-size="9.2" dy="-5.0">12</tspan></text>
<text transform="translate(304.25,178.50) scale(0.975,1.07)" font-size="13" text-anchor="end">10<tspan font-size="9.2" dy="-5.0">13</tspan></text>
<text transform="translate(304.25,144.05) scale(0.975,1.07)" font-size="13" text-anchor="end">10<tspan font-size="9.2" dy="-5.0">14</tspan></text>
<text transform="translate(304.25,109.60) scale(0.975,1.07)" font-size="13" text-anchor="end">10<tspan font-size="9.2" dy="-5.0">15</tspan></text>
<text transform="translate(304.25,75.15) scale(0.975,1.07)" font-size="13" text-anchor="end">10<tspan font-size="9.2" dy="-5.0">16</tspan></text>
<text transform="translate(304.25,40.70) scale(0.975,1.07)" font-size="13" text-anchor="end">10<tspan font-size="9.2" dy="-5.0">17</tspan></text>
<line x1="480.60" y1="38.85" x2="480.60" y2="241.50" stroke="#5e5e5e" stroke-width="1.0" stroke-dasharray="1.2 3.1"/>
<path d="M374.76 81.25 C376.77 81.70 383.63 83.23 386.86 83.96 C390.08 84.69 391.70 84.88 394.12 85.64 C396.53 86.39 398.96 87.39 401.36 88.49 C403.77 89.59 406.19 90.96 408.57 92.24 C410.95 93.52 413.76 95.04 415.62 96.18 C417.49 97.31 417.58 97.27 419.77 99.08 C421.95 100.89 425.73 104.20 428.72 107.03 C431.72 109.86 435.34 113.59 437.76 116.06 C440.17 118.53 441.08 119.36 443.22 121.83 C445.36 124.30 448.42 128.32 450.58 130.87 C452.73 133.42 454.08 135.07 456.17 137.13 C458.26 139.20 460.12 140.55 463.13 143.25 C466.15 145.95 470.59 150.31 474.26 153.35 C477.93 156.39 481.32 158.89 485.18 161.49 C489.04 164.08 495.37 167.68 497.40 168.92" fill="none" stroke="#ea2630" stroke-width="0.95" stroke-dasharray="1.1 3.2"/>
<path d="M373.56 88.20 C375.63 88.32 382.72 88.72 385.99 88.91 C389.26 89.11 390.78 89.05 393.18 89.36 C395.59 89.68 398.03 89.95 400.40 90.80 C402.76 91.65 405.06 93.19 407.38 94.44 C409.70 95.70 412.53 97.22 414.32 98.31 C416.12 99.40 416.06 99.24 418.17 101.00 C420.28 102.76 424.04 106.04 427.01 108.85 C429.97 111.65 433.59 115.38 435.97 117.81 C438.35 120.24 439.28 120.93 441.30 123.44 C443.33 125.94 446.11 130.10 448.10 132.82 C450.10 135.55 451.34 137.49 453.27 139.81 C455.19 142.14 456.89 143.71 459.66 146.76 C462.42 149.82 466.41 154.63 469.85 158.16 C473.29 161.70 476.63 164.81 480.29 167.95 C483.94 171.10 489.88 175.53 491.80 177.05" fill="none" stroke="#ea2630" stroke-width="0.95" stroke-dasharray="1.1 3.2"/>
<path d="M374.58 175.36 C376.45 173.77 382.10 169.10 385.76 165.78 C389.42 162.47 392.96 158.85 396.55 155.50 C400.13 152.15 403.88 148.68 407.27 145.68 C410.66 142.67 414.15 139.83 416.88 137.47 C419.61 135.11 421.00 133.47 423.65 131.52 C426.29 129.56 429.73 127.42 432.77 125.74 C435.80 124.05 438.24 123.02 441.85 121.40 C445.45 119.77 449.69 117.89 454.39 115.98 C459.08 114.07 465.59 111.75 470.00 109.95 C474.42 108.15 476.67 107.00 480.89 105.20 C485.10 103.40 492.89 100.15 495.30 99.14" fill="none" stroke="#ea2630" stroke-width="0.95" stroke-dasharray="1.1 3.2"/>
<path d="M376.02 177.04 C377.89 175.43 383.57 170.74 387.24 167.42 C390.91 164.09 394.47 160.45 398.05 157.10 C401.63 153.75 405.35 150.32 408.73 147.32 C412.11 144.33 415.62 141.47 418.32 139.13 C421.02 136.79 422.37 135.20 424.95 133.28 C427.54 131.37 430.87 129.31 433.83 127.66 C436.80 126.01 439.19 125.01 442.75 123.40 C446.32 121.80 450.54 119.91 455.21 118.02 C459.89 116.13 466.31 113.62 470.80 112.05 C475.28 110.48 477.73 109.90 482.11 108.60 C486.50 107.30 494.61 104.98 497.10 104.26" fill="none" stroke="#ea2630" stroke-width="0.95" stroke-dasharray="1.1 3.2"/>
<path d="M311.55 91.00 C314.27 91.77 322.19 93.63 327.90 95.60 C333.61 97.57 339.82 100.32 345.80 102.80 C351.78 105.28 357.82 107.95 363.80 110.50 C369.78 113.05 376.72 115.98 381.70 118.10 C386.68 120.22 389.32 121.10 393.70 123.20 C398.08 125.30 403.78 128.23 408.00 130.70 C412.22 133.17 415.83 135.72 419.00 138.00 C422.17 140.28 423.50 141.60 427.00 144.40 C430.50 147.20 436.05 151.45 440.00 154.80 C443.95 158.15 446.95 161.10 450.70 164.50 C454.45 167.90 458.43 171.47 462.50 175.20 C466.57 178.93 470.92 182.77 475.10 186.90 C479.28 191.03 483.75 195.92 487.60 200.00 C491.45 204.08 496.43 209.50 498.20 211.40" fill="none" stroke="#1badea" stroke-width="1.1" />
<path d="M341.10 242.40 C342.92 240.52 347.33 235.72 352.00 231.10 C356.67 226.48 363.42 219.98 369.10 214.70 C374.78 209.42 380.43 204.22 386.10 199.40 C391.77 194.58 397.42 190.07 403.10 185.80 C408.78 181.53 414.52 177.60 420.20 173.80 C425.88 170.00 433.23 165.57 437.20 163.00 C441.17 160.43 441.75 159.90 444.00 158.40 C446.25 156.90 447.78 155.80 450.70 154.00 C453.62 152.20 457.92 149.47 461.50 147.60 C465.08 145.73 468.63 144.33 472.20 142.80 C475.77 141.27 478.33 140.12 482.90 138.40 C487.47 136.68 496.82 133.48 499.60 132.50" fill="none" stroke="#1badea" stroke-width="1.1" />
<path d="M374.30 83.90 C376.33 84.25 383.27 85.43 386.50 86.00 C389.73 86.57 391.30 86.70 393.70 87.30 C396.10 87.90 398.52 88.60 400.90 89.60 C403.28 90.60 405.65 92.03 408.00 93.30 C410.35 94.57 413.17 96.08 415.00 97.20 C416.83 98.32 416.85 98.22 419.00 100.00 C421.15 101.78 424.92 105.08 427.90 107.90 C430.88 110.72 434.50 114.45 436.90 116.90 C439.30 119.35 440.22 120.12 442.30 122.60 C444.38 125.08 447.32 129.17 449.40 131.80 C451.48 134.43 452.78 136.22 454.80 138.40 C456.82 140.58 458.60 142.03 461.50 144.90 C464.40 147.77 468.63 152.33 472.20 155.60 C475.77 158.87 479.13 161.65 482.90 164.50 C486.67 167.35 492.82 171.33 494.80 172.70" fill="none" stroke="#ea2630" stroke-width="1.0" />
<path d="M375.30 176.20 C377.17 174.60 382.83 169.92 386.50 166.60 C390.17 163.28 393.72 159.65 397.30 156.30 C400.88 152.95 404.62 149.50 408.00 146.50 C411.38 143.50 414.88 140.65 417.60 138.30 C420.32 135.95 421.68 134.33 424.30 132.40 C426.92 130.47 430.30 128.37 433.30 126.70 C436.30 125.03 438.72 124.02 442.30 122.40 C445.88 120.78 450.12 118.90 454.80 117.00 C459.48 115.10 465.95 112.68 470.40 111.00 C474.85 109.32 477.20 108.45 481.50 106.90 C485.80 105.35 493.75 102.57 496.20 101.70" fill="none" stroke="#ea2630" stroke-width="1.0" />
<text x="500.4" y="58.7" font-size="15.5" font-weight="bold" font-style="italic" text-anchor="middle">b</text>
<g transform="translate(272.8,201.2) rotate(-90)" font-size="13"><text x="-0.4" y="0" font-style="italic">M</text><text x="10.8" y="0.0" font-size="13">,</text><text x="16.0" y="0" font-style="italic">M</text><circle cx="31.4" cy="0.3" r="3.0" fill="none" stroke="#222" stroke-width="0.75"/><circle cx="31.4" cy="0.3" r="0.8" fill="#222"/><text x="50.4" y="0" font-style="italic">ρ</text><text x="58.5" y="0.0" font-size="13">,</text><text x="63.2" y="0" font-style="italic">M</text><circle cx="78.7" cy="0.3" r="3.0" fill="none" stroke="#222" stroke-width="0.75"/><circle cx="78.7" cy="0.3" r="0.8" fill="#222"/><text x="85.6" y="0.0" font-size="13">Mpc</text><text x="110.0" y="-3.9" font-size="9.5">−</text><text x="117.2" y="-3.9" font-size="9.5">3</text></g>
<rect x="587.40" y="35.75" width="206.85" height="206.75" fill="none" stroke="#4d4d4d" stroke-width="1"/>
<line x1="611.27" y1="242.50" x2="611.27" y2="239.50" stroke="#4d4d4d" stroke-width="1" />
<line x1="611.27" y1="35.75" x2="611.27" y2="38.75" stroke="#4d4d4d" stroke-width="1" />
<line x1="625.24" y1="242.50" x2="625.24" y2="239.50" stroke="#4d4d4d" stroke-width="1" />
<line x1="625.24" y1="35.75" x2="625.24" y2="38.75" stroke="#4d4d4d" stroke-width="1" />
<line x1="635.14" y1="242.50" x2="635.14" y2="239.50" stroke="#4d4d4d" stroke-width="1" />
<line x1="635.14" y1="35.75" x2="635.14" y2="38.75" stroke="#4d4d4d" stroke-width="1" />
<line x1="642.83" y1="242.50" x2="642.83" y2="239.50" stroke="#4d4d4d" stroke-width="1" />
<line x1="642.83" y1="35.75" x2="642.83" y2="38.75" stroke="#4d4d4d" stroke-width="1" />
<line x1="649.11" y1="242.50" x2="649.11" y2="239.50" stroke="#4d4d4d" stroke-width="1" />
<line x1="649.11" y1="35.75" x2="649.11" y2="38.75" stroke="#4d4d4d" stroke-width="1" />
<line x1="654.42" y1="242.50" x2="654.42" y2="239.50" stroke="#4d4d4d" stroke-width="1" />
<line x1="654.42" y1="35.75" x2="654.42" y2="38.75" stroke="#4d4d4d" stroke-width="1" />
<line x1="659.02" y1="242.50" x2="659.02" y2="239.50" stroke="#4d4d4d" stroke-width="1" />
<line x1="659.02" y1="35.75" x2="659.02" y2="38.75" stroke="#4d4d4d" stroke-width="1" />
<line x1="663.07" y1="242.50" x2="663.07" y2="239.50" stroke="#4d4d4d" stroke-width="1" />
<line x1="663.07" y1="35.75" x2="663.07" y2="38.75" stroke="#4d4d4d" stroke-width="1" />
<line x1="666.70" y1="242.50" x2="666.70" y2="237.00" stroke="#4d4d4d" stroke-width="1" />
<line x1="666.70" y1="35.75" x2="666.70" y2="41.25" stroke="#4d4d4d" stroke-width="1" />
<line x1="690.57" y1="242.50" x2="690.57" y2="239.50" stroke="#4d4d4d" stroke-width="1" />
<line x1="690.57" y1="35.75" x2="690.57" y2="38.75" stroke="#4d4d4d" stroke-width="1" />
<line x1="704.54" y1="242.50" x2="704.54" y2="239.50" stroke="#4d4d4d" stroke-width="1" />
<line x1="704.54" y1="35.75" x2="704.54" y2="38.75" stroke="#4d4d4d" stroke-width="1" />
<line x1="714.44" y1="242.50" x2="714.44" y2="239.50" stroke="#4d4d4d" stroke-width="1" />
<line x1="714.44" y1="35.75" x2="714.44" y2="38.75" stroke="#4d4d4d" stroke-width="1" />
<line x1="722.13" y1="242.50" x2="722.13" y2="239.50" stroke="#4d4d4d" stroke-width="1" />
<line x1="722.13" y1="35.75" x2="722.13" y2="38.75" stroke="#4d4d4d" stroke-width="1" />
<line x1="728.41" y1="242.50" x2="728.41" y2="239.50" stroke="#4d4d4d" stroke-width="1" />
<line x1="728.41" y1="35.75" x2="728.41" y2="38.75" stroke="#4d4d4d" stroke-width="1" />
<line x1="733.72" y1="242.50" x2="733.72" y2="239.50" stroke="#4d4d4d" stroke-width="1" />
<line x1="733.72" y1="35.75" x2="733.72" y2="38.75" stroke="#4d4d4d" stroke-width="1" />
<line x1="738.32" y1="242.50" x2="738.32" y2="239.50" stroke="#4d4d4d" stroke-width="1" />
<line x1="738.32" y1="35.75" x2="738.32" y2="38.75" stroke="#4d4d4d" stroke-width="1" />
<line x1="742.37" y1="242.50" x2="742.37" y2="239.50" stroke="#4d4d4d" stroke-width="1" />
<line x1="742.37" y1="35.75" x2="742.37" y2="38.75" stroke="#4d4d4d" stroke-width="1" />
<line x1="746.00" y1="242.50" x2="746.00" y2="237.00" stroke="#4d4d4d" stroke-width="1" />
<line x1="746.00" y1="35.75" x2="746.00" y2="41.25" stroke="#4d4d4d" stroke-width="1" />
<line x1="769.87" y1="242.50" x2="769.87" y2="239.50" stroke="#4d4d4d" stroke-width="1" />
<line x1="769.87" y1="35.75" x2="769.87" y2="38.75" stroke="#4d4d4d" stroke-width="1" />
<line x1="783.84" y1="242.50" x2="783.84" y2="239.50" stroke="#4d4d4d" stroke-width="1" />
<line x1="783.84" y1="35.75" x2="783.84" y2="38.75" stroke="#4d4d4d" stroke-width="1" />
<line x1="793.74" y1="242.50" x2="793.74" y2="239.50" stroke="#4d4d4d" stroke-width="1" />
<line x1="793.74" y1="35.75" x2="793.74" y2="38.75" stroke="#4d4d4d" stroke-width="1" />
<text transform="translate(587.40,256.90) scale(0.975,1.07)" font-size="13" text-anchor="middle" >10</text>
<text transform="translate(666.70,256.90) scale(0.975,1.07)" font-size="13" text-anchor="middle" >100</text>
<text transform="translate(746.00,256.90) scale(0.975,1.07)" font-size="13" text-anchor="middle" >1000</text>
<text x="690.52" y="270.5" font-size="13" text-anchor="middle"><tspan font-style="italic">r</tspan>, kpc</text>
<line x1="587.40" y1="231.04" x2="590.40" y2="231.04" stroke="#4d4d4d" stroke-width="1" />
<line x1="794.25" y1="231.04" x2="791.25" y2="231.04" stroke="#4d4d4d" stroke-width="1" />
<line x1="587.40" y1="219.58" x2="590.40" y2="219.58" stroke="#4d4d4d" stroke-width="1" />
<line x1="794.25" y1="219.58" x2="791.25" y2="219.58" stroke="#4d4d4d" stroke-width="1" />
<line x1="587.40" y1="208.12" x2="590.40" y2="208.12" stroke="#4d4d4d" stroke-width="1" />
<line x1="794.25" y1="208.12" x2="791.25" y2="208.12" stroke="#4d4d4d" stroke-width="1" />
<line x1="587.40" y1="196.66" x2="590.40" y2="196.66" stroke="#4d4d4d" stroke-width="1" />
<line x1="794.25" y1="196.66" x2="791.25" y2="196.66" stroke="#4d4d4d" stroke-width="1" />
<line x1="587.40" y1="185.20" x2="592.90" y2="185.20" stroke="#4d4d4d" stroke-width="1" />
<line x1="794.25" y1="185.20" x2="788.75" y2="185.20" stroke="#4d4d4d" stroke-width="1" />
<line x1="587.40" y1="173.74" x2="590.40" y2="173.74" stroke="#4d4d4d" stroke-width="1" />
<line x1="794.25" y1="173.74" x2="791.25" y2="173.74" stroke="#4d4d4d" stroke-width="1" />
<line x1="587.40" y1="162.28" x2="590.40" y2="162.28" stroke="#4d4d4d" stroke-width="1" />
<line x1="794.25" y1="162.28" x2="791.25" y2="162.28" stroke="#4d4d4d" stroke-width="1" />
<line x1="587.40" y1="150.82" x2="590.40" y2="150.82" stroke="#4d4d4d" stroke-width="1" />
<line x1="794.25" y1="150.82" x2="791.25" y2="150.82" stroke="#4d4d4d" stroke-width="1" />
<line x1="587.40" y1="139.36" x2="590.40" y2="139.36" stroke="#4d4d4d" stroke-width="1" />
<line x1="794.25" y1="139.36" x2="791.25" y2="139.36" stroke="#4d4d4d" stroke-width="1" />
<line x1="587.40" y1="127.90" x2="592.90" y2="127.90" stroke="#4d4d4d" stroke-width="1" />
<line x1="794.25" y1="127.90" x2="788.75" y2="127.90" stroke="#4d4d4d" stroke-width="1" />
<line x1="587.40" y1="116.44" x2="590.40" y2="116.44" stroke="#4d4d4d" stroke-width="1" />
<line x1="794.25" y1="116.44" x2="791.25" y2="116.44" stroke="#4d4d4d" stroke-width="1" />
<line x1="587.40" y1="104.98" x2="590.40" y2="104.98" stroke="#4d4d4d" stroke-width="1" />
<line x1="794.25" y1="104.98" x2="791.25" y2="104.98" stroke="#4d4d4d" stroke-width="1" />
<line x1="587.40" y1="93.52" x2="590.40" y2="93.52" stroke="#4d4d4d" stroke-width="1" />
<line x1="794.25" y1="93.52" x2="791.25" y2="93.52" stroke="#4d4d4d" stroke-width="1" />
<line x1="587.40" y1="82.06" x2="590.40" y2="82.06" stroke="#4d4d4d" stroke-width="1" />
<line x1="794.25" y1="82.06" x2="791.25" y2="82.06" stroke="#4d4d4d" stroke-width="1" />
<line x1="587.40" y1="70.60" x2="592.90" y2="70.60" stroke="#4d4d4d" stroke-width="1" />
<line x1="794.25" y1="70.60" x2="788.75" y2="70.60" stroke="#4d4d4d" stroke-width="1" />
<line x1="587.40" y1="59.14" x2="590.40" y2="59.14" stroke="#4d4d4d" stroke-width="1" />
<line x1="794.25" y1="59.14" x2="791.25" y2="59.14" stroke="#4d4d4d" stroke-width="1" />
<line x1="587.40" y1="47.68" x2="590.40" y2="47.68" stroke="#4d4d4d" stroke-width="1" />
<line x1="794.25" y1="47.68" x2="791.25" y2="47.68" stroke="#4d4d4d" stroke-width="1" />
<text transform="translate(581.20,247.35) scale(0.975,1.07)" font-size="13" text-anchor="end" >0<tspan dx="0.75">.</tspan><tspan dx="0.75">00</tspan></text>
<text transform="translate(581.20,190.05) scale(0.975,1.07)" font-size="13" text-anchor="end" >0<tspan dx="0.75">.</tspan><tspan dx="0.75">05</tspan></text>
<text transform="translate(581.20,132.75) scale(0.975,1.07)" font-size="13" text-anchor="end" >0<tspan dx="0.75">.</tspan><tspan dx="0.75">10</tspan></text>
<text transform="translate(581.20,75.45) scale(0.975,1.07)" font-size="13" text-anchor="end" >0<tspan dx="0.75">.</tspan><tspan dx="0.75">15</tspan></text>
<line x1="756.40" y1="38.85" x2="756.40" y2="241.50" stroke="#5e5e5e" stroke-width="1.0" stroke-dasharray="1.2 3.1"/>
<path d="M651.50 129.50 C651.67 128.93 651.43 127.92 652.50 126.10 C653.57 124.28 656.32 120.42 657.90 118.60 C659.48 116.78 660.75 115.92 662.00 115.20 C663.25 114.48 664.23 114.27 665.40 114.30 C666.57 114.33 667.92 114.75 669.00 115.40 C670.08 116.05 670.52 116.58 671.90 118.20 C673.28 119.82 675.33 122.88 677.30 125.10 C679.27 127.32 681.38 129.35 683.70 131.50 C686.02 133.65 688.87 136.20 691.20 138.00 C693.53 139.80 695.75 141.28 697.70 142.30 C699.65 143.32 700.95 144.17 702.90 144.10 C704.85 144.03 707.25 142.98 709.40 141.90 C711.55 140.82 713.65 139.20 715.80 137.60 C717.95 136.00 720.15 134.08 722.30 132.30 C724.45 130.52 726.55 128.88 728.70 126.90 C730.85 124.92 733.13 122.72 735.20 120.40 C737.27 118.08 739.22 115.57 741.10 113.00 C742.98 110.43 744.52 107.70 746.50 105.00 C748.48 102.30 750.85 99.23 753.00 96.80 C755.15 94.37 757.43 92.28 759.40 90.40 C761.37 88.52 763.25 86.82 764.80 85.50 C766.35 84.18 768.05 83.00 768.70 82.50" fill="none" stroke="#ea2630" stroke-width="0.95" stroke-dasharray="1.1 3.2"/>
<path d="M650.40 151.50 C651.12 150.32 653.10 146.48 654.70 144.40 C656.30 142.32 658.22 140.25 660.00 139.00 C661.78 137.75 663.23 136.90 665.40 136.90 C667.57 136.90 670.30 137.88 673.00 139.00 C675.70 140.12 679.10 142.27 681.60 143.60 C684.10 144.93 685.85 145.97 688.00 147.00 C690.15 148.03 692.35 148.88 694.50 149.80 C696.65 150.72 699.23 151.85 700.90 152.50 C702.57 153.15 703.08 153.78 704.50 153.70 C705.92 153.62 707.52 152.88 709.40 152.00 C711.28 151.12 713.65 149.90 715.80 148.40 C717.95 146.90 720.15 144.97 722.30 143.00 C724.45 141.03 726.55 138.75 728.70 136.60 C730.85 134.45 733.05 132.08 735.20 130.10 C737.35 128.12 739.45 126.22 741.60 124.70 C743.75 123.18 745.67 121.92 748.10 121.00 C750.53 120.08 753.78 119.27 756.20 119.20 C758.62 119.13 760.63 119.90 762.60 120.60 C764.57 121.30 766.57 122.22 768.00 123.40 C769.43 124.58 770.67 126.98 771.20 127.70" fill="none" stroke="#ea2630" stroke-width="0.95" stroke-dasharray="1.1 3.2"/>
<path d="M651.00 141.20 C651.33 140.33 652.20 137.62 653.00 136.00 C653.80 134.38 654.45 132.90 655.80 131.50 C657.15 130.10 659.50 128.42 661.10 127.60 C662.70 126.78 663.60 126.38 665.40 126.60 C667.20 126.82 669.92 127.80 671.90 128.90 C673.88 130.00 674.62 130.97 677.30 133.20 C679.98 135.43 684.78 140.03 688.00 142.30 C691.22 144.57 694.28 145.63 696.60 146.80 C698.92 147.97 700.13 149.15 701.90 149.30 C703.67 149.45 705.23 148.57 707.20 147.70 C709.17 146.83 711.18 145.88 713.70 144.10 C716.22 142.32 719.08 139.87 722.30 137.00 C725.52 134.13 729.42 130.38 733.00 126.90 C736.58 123.42 740.97 118.72 743.80 116.10 C746.63 113.48 748.12 112.62 750.00 111.20 C751.88 109.78 753.60 108.45 755.10 107.60 C756.60 106.75 757.75 106.42 759.00 106.10 C760.25 105.78 761.10 105.58 762.60 105.70 C764.10 105.82 766.45 106.25 768.00 106.80 C769.55 107.35 771.25 108.63 771.90 109.00" fill="none" stroke="#ea2630" stroke-width="1.0" />
<line x1="657.50" y1="140.40" x2="681.40" y2="140.40" stroke="#1badea" stroke-width="0.95" />
<line x1="669.70" y1="131.10" x2="669.70" y2="149.50" stroke="#1badea" stroke-width="0.95" />
<line x1="657.50" y1="139.20" x2="657.50" y2="141.60" stroke="#1badea" stroke-width="0.85" />
<line x1="681.40" y1="139.20" x2="681.40" y2="141.60" stroke="#1badea" stroke-width="0.85" />
<line x1="668.50" y1="131.10" x2="670.90" y2="131.10" stroke="#1badea" stroke-width="0.85" />
<line x1="668.50" y1="149.50" x2="670.90" y2="149.50" stroke="#1badea" stroke-width="0.85" />
<line x1="681.30" y1="153.80" x2="705.60" y2="153.80" stroke="#1badea" stroke-width="0.95" />
<line x1="693.50" y1="147.10" x2="693.50" y2="161.10" stroke="#1badea" stroke-width="0.95" />
<line x1="681.30" y1="152.60" x2="681.30" y2="155.00" stroke="#1badea" stroke-width="0.85" />
<line x1="705.60" y1="152.60" x2="705.60" y2="155.00" stroke="#1badea" stroke-width="0.85" />
<line x1="692.30" y1="147.10" x2="694.70" y2="147.10" stroke="#1badea" stroke-width="0.85" />
<line x1="692.30" y1="161.10" x2="694.70" y2="161.10" stroke="#1badea" stroke-width="0.85" />
<line x1="705.00" y1="118.30" x2="729.70" y2="118.30" stroke="#1badea" stroke-width="0.95" />
<line x1="717.40" y1="106.40" x2="717.40" y2="130.30" stroke="#1badea" stroke-width="0.95" />
<line x1="705.00" y1="117.10" x2="705.00" y2="119.50" stroke="#1badea" stroke-width="0.85" />
<line x1="729.70" y1="117.10" x2="729.70" y2="119.50" stroke="#1badea" stroke-width="0.85" />
<line x1="716.20" y1="106.40" x2="718.60" y2="106.40" stroke="#1badea" stroke-width="0.85" />
<line x1="716.20" y1="130.30" x2="718.60" y2="130.30" stroke="#1badea" stroke-width="0.85" />
<line x1="728.70" y1="93.10" x2="754.00" y2="93.10" stroke="#1badea" stroke-width="0.95" />
<line x1="741.10" y1="58.00" x2="741.10" y2="119.00" stroke="#1badea" stroke-width="0.95" />
<line x1="728.70" y1="91.90" x2="728.70" y2="94.30" stroke="#1badea" stroke-width="0.85" />
<line x1="754.00" y1="91.90" x2="754.00" y2="94.30" stroke="#1badea" stroke-width="0.85" />
<line x1="739.90" y1="58.00" x2="742.30" y2="58.00" stroke="#1badea" stroke-width="0.85" />
<line x1="739.90" y1="119.00" x2="742.30" y2="119.00" stroke="#1badea" stroke-width="0.85" />
<text x="776.3" y="58.7" font-size="15.5" font-weight="bold" font-style="italic" text-anchor="middle">c</text>
<g transform="translate(551.3,148.3) rotate(-90)"><text transform="scale(1.45,1)" font-size="13.5" font-style="italic">f</text><text x="6.3" y="2.6" font-size="8.9">gas</text></g>
</g>
</svg>
</body></html>
